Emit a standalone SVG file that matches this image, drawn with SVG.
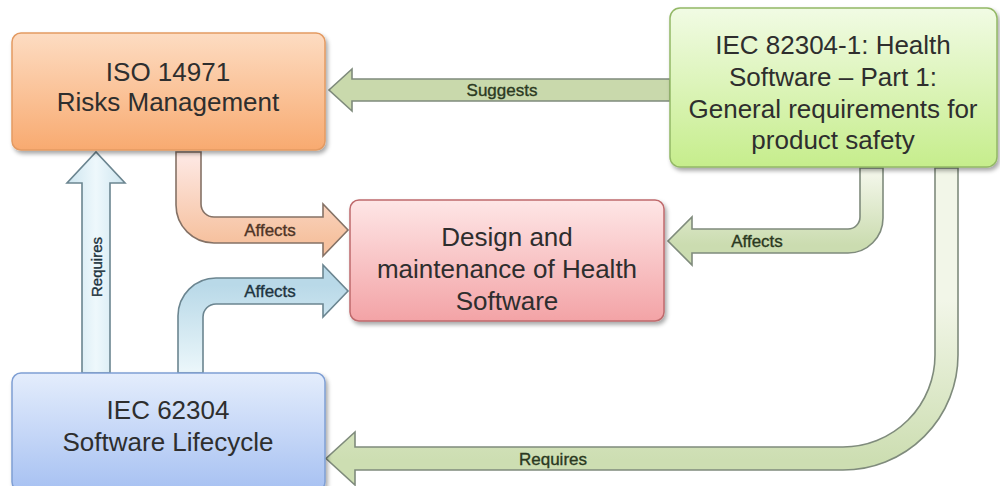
<svg xmlns="http://www.w3.org/2000/svg" width="1000" height="486" viewBox="0 0 1000 486">
  <defs>
    <filter id="shadow" x="-10%" y="-10%" width="125%" height="130%">
      <feDropShadow dx="2" dy="3" stdDeviation="2" flood-color="#000" flood-opacity="0.35"/>
    </filter>
    <linearGradient id="gOrange" x1="0" y1="0" x2="0" y2="1">
      <stop offset="0" stop-color="#fddcc2"/>
      <stop offset="1" stop-color="#f8aa70"/>
    </linearGradient>
    <linearGradient id="gGreen" x1="0" y1="0" x2="0" y2="1">
      <stop offset="0" stop-color="#f1fbe4"/>
      <stop offset="1" stop-color="#c6ed8c"/>
    </linearGradient>
    <linearGradient id="gPink" x1="0" y1="0" x2="0" y2="1">
      <stop offset="0" stop-color="#fee6e6"/>
      <stop offset="1" stop-color="#f3a3a6"/>
    </linearGradient>
    <linearGradient id="gBlue" x1="0" y1="0" x2="0" y2="1">
      <stop offset="0" stop-color="#e4edfc"/>
      <stop offset="1" stop-color="#a7c1f2"/>
    </linearGradient>
    <!-- connector fills: light where the arrow starts, deeper toward the head -->
    <linearGradient id="aOrange" gradientUnits="userSpaceOnUse" x1="0" y1="160" x2="0" y2="240">
      <stop offset="0" stop-color="#fde6e0"/>
      <stop offset="1" stop-color="#f6c2a0"/>
    </linearGradient>
    <linearGradient id="aBlue" gradientUnits="userSpaceOnUse" x1="0" y1="370" x2="0" y2="285">
      <stop offset="0" stop-color="#eaf6fa"/>
      <stop offset="1" stop-color="#b9d9e8"/>
    </linearGradient>
    <linearGradient id="aGreenShort" gradientUnits="userSpaceOnUse" x1="0" y1="175" x2="0" y2="245">
      <stop offset="0" stop-color="#f2f6e8"/>
      <stop offset="1" stop-color="#cbdcb0"/>
    </linearGradient>
    <linearGradient id="aGreenLong" gradientUnits="userSpaceOnUse" x1="0" y1="300" x2="0" y2="460">
      <stop offset="0" stop-color="#f2f6e8"/>
      <stop offset="1" stop-color="#cddeb2"/>
    </linearGradient>
    <linearGradient id="aVert" x1="0" y1="0" x2="1" y2="0">
      <stop offset="0" stop-color="#cde5ef"/>
      <stop offset="0.5" stop-color="#eef8fc"/>
      <stop offset="1" stop-color="#cde5ef"/>
    </linearGradient>
    <style>
      .node text { font-family: "Liberation Sans", Arial, sans-serif; font-size: 26px; text-anchor: middle; fill: #2e2e2e; }
      .box { stroke-width: 1.5; filter: url(#shadow); }
      .arrow { stroke-width: 1.6; stroke-linejoin: miter; }
      .lbl { font-family: "Liberation Sans", Arial, sans-serif; font-size: 17px; text-anchor: middle; dominant-baseline: central; stroke-width: 0.35; }
    </style>
  </defs>

  <rect width="1000" height="486" fill="#ffffff"/>

  <!-- connectors -->
  <g id="connectors">
    <!-- Suggests: IEC 82304-1 to ISO 14971 -->
    <path class="arrow" d="M670,79 L352,79 L352,69 L329,90 L352,111 L352,101 L670,101 Z" fill="#c9d9ac" stroke="#7f8b7c"/>
    <text class="lbl" x="502" y="90" fill="#2c3a22" stroke="#2c3a22">Suggests</text>

    <!-- Affects: ISO 14971 to design -->
    <path class="arrow" d="M176,152 L176,205 A38,38 0 0 0 214,243 L323,243 L323,256 L348,230 L323,204 L323,217 L214,217 A13,13 0 0 1 201,204 L201,152 Z" fill="url(#aOrange)" stroke="#857266"/>
    <text class="lbl" x="270" y="230" fill="#4e3426" stroke="#4e3426">Affects</text>

    <!-- Affects: IEC 62304 to design -->
    <path class="arrow" d="M178,373 L178,316 A38,38 0 0 1 216,278 L323,278 L323,265 L348,291 L323,317 L323,304 L216,304 A13,13 0 0 0 203,317 L203,373 Z" fill="url(#aBlue)" stroke="#6b8590"/>
    <text class="lbl" x="270" y="291" fill="#1e3440" stroke="#1e3440">Affects</text>

    <!-- Requires: IEC 62304 to ISO 14971 -->
    <path class="arrow" d="M82,373 L82,183 L67,183 L96,152 L125,183 L110,183 L110,373 Z" fill="url(#aVert)" stroke="#6b8590"/>
    <text class="lbl" x="96" y="267" fill="#1e343e" stroke="#1e343e" transform="rotate(-90 96 267)" style="font-size:15px">Requires</text>

    <!-- Affects: IEC 82304-1 to design -->
    <path class="arrow" d="M883,168 L883,218 A35,35 0 0 1 848,253 L692,253 L692,265 L668,241 L692,217 L692,229 L848,229 A12,12 0 0 0 860,217 L860,168 Z" fill="url(#aGreenShort)" stroke="#7f8b7c"/>
    <text class="lbl" x="757" y="241" fill="#2a3820" stroke="#2a3820">Affects</text>

    <!-- Requires: IEC 82304-1 to IEC 62304 -->
    <path class="arrow" d="M958,168 L958,355 A115,115 0 0 1 843,470 L355,470 L355,485 L326,458.5 L355,432 L355,447 L843,447 A92,92 0 0 0 935,355 L935,168 Z" fill="url(#aGreenLong)" stroke="#7f8b7c"/>
    <text class="lbl" x="553" y="459" fill="#2a3820" stroke="#2a3820">Requires</text>
  </g>

  <!-- nodes -->
  <g id="iso14971" class="node">
    <rect class="box" x="12" y="33" width="313" height="117" rx="9" fill="url(#gOrange)" stroke="#e39a62"/>
    <text x="168" y="81">ISO 14971</text>
    <text x="168" y="111">Risks Management</text>
  </g>

  <g id="iec82304" class="node">
    <rect class="box" x="670" y="8" width="327" height="159" rx="10" fill="url(#gGreen)" stroke="#93b866"/>
    <text x="833" y="54">IEC 82304-1: Health</text>
    <text x="833" y="86">Software – Part 1:</text>
    <text x="833" y="118">General requirements for</text>
    <text x="833" y="149">product safety</text>
  </g>

  <g id="design" class="node">
    <rect class="box" x="350" y="200" width="314" height="121" rx="9" fill="url(#gPink)" stroke="#bf6a6c"/>
    <text x="507" y="246">Design and</text>
    <text x="507" y="278">maintenance of Health</text>
    <text x="507" y="310">Software</text>
  </g>

  <g id="iec62304" class="node">
    <rect class="box" x="12" y="373" width="313" height="118" rx="9" fill="url(#gBlue)" stroke="#7f9fd4"/>
    <text x="168" y="419">IEC 62304</text>
    <text x="168" y="451">Software Lifecycle</text>
  </g>
</svg>
